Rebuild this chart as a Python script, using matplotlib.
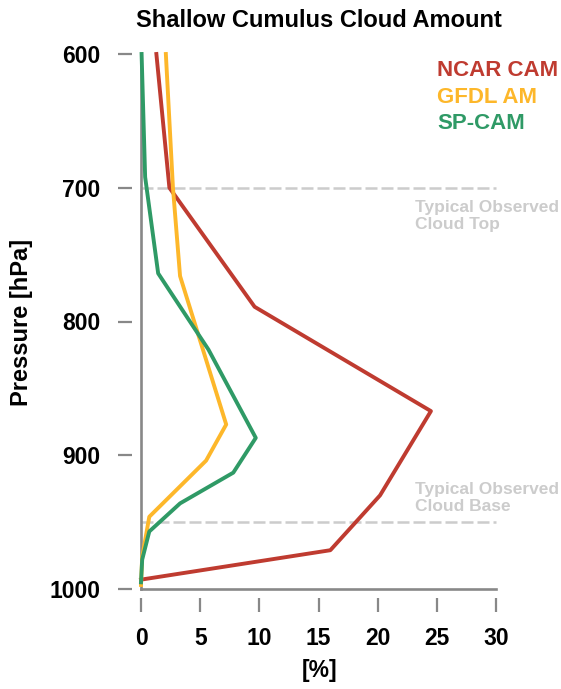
import matplotlib
matplotlib.use('Agg')
import matplotlib.pyplot as plt

plt.rcParams['font.family'] = ['Liberation Sans', 'DejaVu Sans']
plt.rcParams['font.weight'] = 'bold'

# cloud amount [%] against pressure [hPa]
ncar_x = [1.3, 2.4, 9.6, 24.5, 20.2, 16.0, 0.0]
ncar_p = [600, 700, 789, 867, 930, 971, 993]

gfdl_x = [2.1, 2.7, 3.3, 7.2, 5.5, 0.7, 0.1, 0.0]
gfdl_p = [600, 700, 766, 877, 904, 946, 976, 997]

spcam_x = [0.05, 0.35, 1.45, 5.7, 9.7, 7.8, 3.3, 0.7, 0.1, 0.0]
spcam_p = [600, 692, 764, 821, 887, 913, 936, 957, 978, 995]

obs_top = 700
obs_base = 950

x_ticks = [0, 5, 10, 15, 20, 25, 30]
p_ticks = [600, 700, 800, 900, 1000]

red = '#bf3b30'
orange = '#fdb72a'
green = '#2f9a66'
grey = '#888888'
light = '#cccccc'

W, H = 561, 689
fig = plt.figure(figsize=(W / 100, H / 100), dpi=100)
ax = fig.add_axes([141 / W, 1 - 589 / H, 355 / W, 535 / H])

ax.set_xlim(0, 30)
ax.set_ylim(1000, 600)

# observed cloud top / base
for p in (obs_top, obs_base):
    ax.plot([0, 30], [p, p], color=light, lw=1.8, dashes=(4.8, 1.6), clip_on=False, zorder=1)

ax.plot(ncar_x, ncar_p, color=red, lw=2.8, clip_on=False, zorder=3)
ax.plot(gfdl_x, gfdl_p, color=orange, lw=2.8, clip_on=False, zorder=3)
ax.plot(spcam_x, spcam_p, color=green, lw=2.8, clip_on=False, zorder=3)

# axis lines sit on the data, ticks are set off from them
ax.plot([0, 0], [600, 1000], color=grey, lw=1.9, clip_on=False, zorder=2)
ax.plot([0, 30], [1000, 1000], color=grey, lw=1.9, clip_on=False, zorder=2)
for side in ['top', 'right']:
    ax.spines[side].set_visible(False)
for side in ['left', 'bottom']:
    ax.spines[side].set_position(('outward', 6.5))
    ax.spines[side].set_color('none')

ax.set_xticks(x_ticks)
ax.set_yticks(p_ticks)
ax.tick_params(axis='both', length=10.4, width=1.6, color=grey, labelsize=16.5)
ax.tick_params(axis='y', pad=12.3)
ax.tick_params(axis='x', pad=10.5)
for lab in ax.get_xticklabels() + ax.get_yticklabels():
    lab.set_fontweight('bold')

fig.text(319 / W, 1 - 27.3 / H, 'Shallow Cumulus Cloud Amount', ha='center', va='baseline',
         fontsize=17, fontweight='bold')
fig.text(22 / W, 1 - 322 / H, 'Pressure [hPa]', rotation=90, ha='center', va='center',
         fontsize=17, fontweight='bold')
fig.text(320 / W, 1 - 670 / H, '[%]', ha='center', va='center', fontsize=16.5, fontweight='bold')

# labels for the three models
for name, col, yb in [('NCAR CAM', red, 76), ('GFDL AM', orange, 102.7), ('SP-CAM', green, 129.3)]:
    fig.text(437 / W, 1 - yb / H, name, color=col, ha='left', va='baseline',
             fontsize=16, fontweight='bold')

# baseline of the last line of each note
ax.text(23.16, 730.5, 'Typical Observed\nCloud Top', color=light, fontsize=12.5, fontweight='bold',
        ha='left', va='baseline', linespacing=1.15, clip_on=False)
ax.text(23.16, 941.5, 'Typical Observed\nCloud Base', color=light, fontsize=12.5, fontweight='bold',
        ha='left', va='baseline', linespacing=1.15, clip_on=False)

fig.savefig('out.png', dpi=100)
